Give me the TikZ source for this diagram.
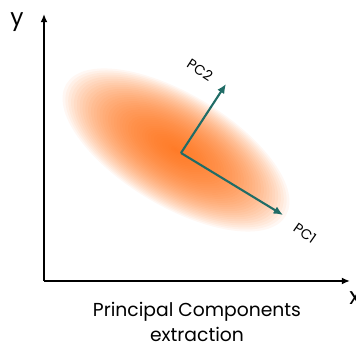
\documentclass[tikz,border=0pt]{standalone}
\usepackage{fontspec}
\setmainfont{Poppins}
\usetikzlibrary{arrows.meta}
\definecolor{pcteal}{RGB}{32,108,102}
\definecolor{blob}{RGB}{255,105,10}
\begin{document}
\begin{tikzpicture}[
    x=0.03cm, y=0.03cm,
    axis/.style={line width=1.4pt, -{Latex[length=7pt,width=6pt]}},
    pcarrow/.style={line width=1.8pt, draw=pcteal, -{Latex[length=8pt,width=7pt]}},
    pclabel/.style={font=\fontsize{12}{14}\selectfont, inner sep=0pt}
]
    \useasboundingbox (0,0) rectangle (356,349);

    % the cloud of points, built from stacked ellipses
    \coordinate (cloud) at (176,199);
    \foreach \k in {1,...,40}
        \fill[blob, opacity=0.05, rotate around={-31:(cloud)}]
            (cloud) ellipse [x radius={3.2*\k}, y radius={1.4*\k}];

    % axes
    \coordinate (origin) at (44,68);
    \coordinate (ytip) at (44,335);
    \coordinate (xtip) at (350,68);
    \draw[axis] (origin) -- (ytip);
    \draw[axis] (origin) -- (xtip);
    \node[font=\fontsize{20}{22}\selectfont] (ylabel) at (17,327) {y};
    \node[font=\fontsize{20}{22}\selectfont] (xlabel) at (355,51) {x};

    % principal components
    \coordinate (center) at (181,196);
    \coordinate (pc1tip) at (283,134);
    \coordinate (pc2tip) at (226,265);
    \draw[pcarrow] (center) -- (pc1tip);
    \draw[pcarrow] (center) -- (pc2tip);
    \node[pclabel, rotate=-35] (pc1) at (305,116) {PC1};
    \node[pclabel, rotate=-33] (pc2) at (200,279) {PC2};

    \node[align=center, font=\fontsize{16}{21}\selectfont] (caption) at (197,27)
        {Principal Components\\extraction};
\end{tikzpicture}
\end{document}
